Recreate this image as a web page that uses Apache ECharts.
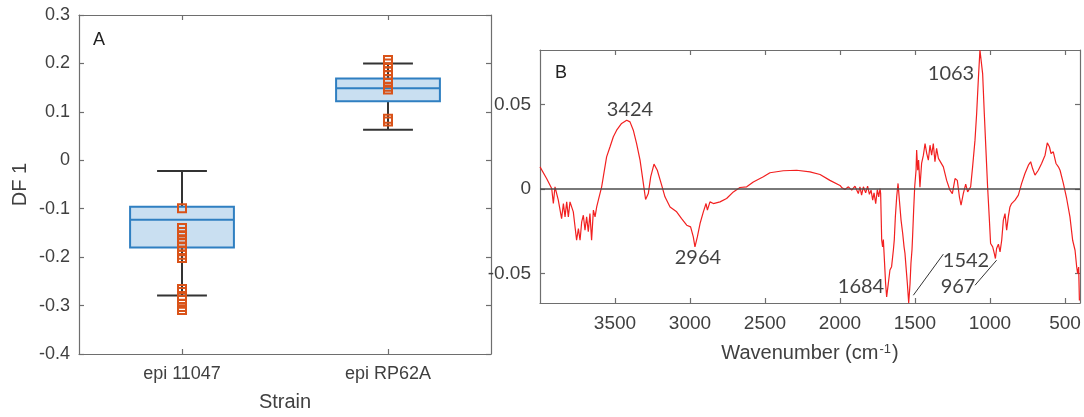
<!DOCTYPE html>
<html>
<head>
<meta charset="utf-8">
<script src="https://cdn.jsdelivr.net/npm/echarts@6.0.0/dist/echarts.min.js"></script>
<style>
  html, body { margin: 0; padding: 0; background: #ffffff; }
  #chart { width: 1084px; height: 417px; }
</style>
</head>
<body>
<div id="chart"></div>
<script>
// ---------- Panel A: box plot data ----------
const strains = ['epi 11047', 'epi RP62A'];
const whiskerLow  = [-0.279, 0.063];
const boxQ1       = [-0.180, 0.122];
const boxMedian   = [-0.123, 0.149];
const boxQ3       = [-0.096, 0.169];
const whiskerHigh = [-0.022, 0.200];
const pointsEpi11047 = [-0.099, -0.140, -0.148, -0.155, -0.163, -0.170, -0.178, -0.188, -0.195, -0.202,
                        -0.266, -0.272, -0.280, -0.288, -0.296, -0.303, -0.309];
const pointsEpiRP62A = [0.207, 0.200, 0.192, 0.184, 0.176, 0.168, 0.160, 0.152, 0.146, 0.086, 0.080];
const dfTickValues = [-0.4, -0.3, -0.2, -0.1, 0, 0.1, 0.2, 0.3];

// ---------- Panel B: spectrum data ----------
const wavenumbers = [
  4000, 3956, 3922, 3911, 3900, 3878, 3856, 3844, 3833, 3822, 3811, 3800, 3789, 3778, 3756, 3744, 3733, 3722,
  3711, 3700, 3689, 3678, 3667, 3656, 3644, 3633, 3622, 3611, 3589, 3578, 3556, 3533, 3511, 3489, 3456, 3422,
  3400, 3378, 3356, 3333, 3311, 3296, 3278, 3262, 3240, 3218, 3189, 3167, 3133, 3089, 3056, 3022, 2996, 2978,
  2967, 2951, 2933, 2911, 2893, 2884, 2867, 2844, 2800, 2756, 2711, 2667, 2622, 2578, 2511, 2467, 2378, 2289,
  2200, 2133, 2067, 2000, 1989, 1967, 1944, 1922, 1900, 1878, 1867, 1856, 1844, 1829, 1816, 1804, 1793, 1782,
  1773, 1762, 1751, 1742, 1733, 1729, 1722, 1716, 1711, 1704, 1696, 1689, 1678, 1667, 1656, 1644, 1638, 1631,
  1622, 1613, 1604, 1593, 1582, 1573, 1567, 1560, 1551, 1542, 1533, 1527, 1520, 1516, 1509, 1502, 1493, 1489,
  1482, 1476, 1467, 1456, 1444, 1433, 1422, 1411, 1400, 1389, 1378, 1367, 1356, 1344, 1333, 1311, 1289, 1267,
  1251, 1233, 1218, 1204, 1193, 1178, 1162, 1149, 1138, 1129, 1116, 1100, 1089, 1078, 1067, 1056, 1049, 1038,
  1027, 1016, 1004, 996, 982, 971, 964, 956, 944, 933, 922, 911, 900, 889, 878, 867, 856, 833, 811, 789, 767,
  744, 729, 716, 700, 678, 656, 633, 618, 604, 593, 578, 560, 544, 533, 511, 489, 467, 449, 433, 422, 416, 409, 404
];
const absorbance = [
  0.0130, 0.0061, 0.0002, -0.0087, 0.0012, -0.0067, -0.0176, -0.0087, -0.0166, -0.0077, -0.0166, -0.0077, -0.0087, -0.0136, -0.0304, -0.0235, -0.0304, -0.0195,
  -0.0156, -0.0245, -0.0166, -0.0254, -0.0146, -0.0304, -0.0126, -0.0166, -0.0107, -0.0067, 0.0012, 0.0071, 0.0189, 0.0249, 0.0308, 0.0347, 0.0387, 0.0406,
  0.0396, 0.0347, 0.0268, 0.0170, 0.0032, -0.0063, -0.0028, 0.0071, 0.0146, 0.0110, 0.0022, -0.0047, -0.0107, -0.0136, -0.0176, -0.0215, -0.0225, -0.0284,
  -0.0343, -0.0284, -0.0205, -0.0136, -0.0087, -0.0126, -0.0077, -0.0087, -0.0077, -0.0057, -0.0018, 0.0008, 0.0012, 0.0041, 0.0071, 0.0095, 0.0107, 0.0110,
  0.0100, 0.0085, 0.0050, 0.0020, 0.0008, -0.0004, 0.0012, -0.0008, 0.0016, -0.0028, 0.0012, -0.0037, 0.0012, -0.0024, 0.0016, -0.0032, -0.0008, -0.0067,
  -0.0024, -0.0087, -0.0004, -0.0047, 0.0002, -0.0028, -0.0304, -0.0343, -0.0300, -0.0420, -0.0560, -0.0639, -0.0560, -0.0480, -0.0460, -0.0360, -0.0300, -0.0166,
  -0.0047, 0.0032, -0.0067, -0.0185, -0.0264, -0.0343, -0.0380, -0.0460, -0.0560, -0.0675, -0.0560, -0.0440, -0.0360, -0.0280, -0.0126, 0.0012, 0.0110, 0.0229,
  0.0110, 0.0170, 0.0010, 0.0150, 0.0199, 0.0268, 0.0210, 0.0170, 0.0258, 0.0199, 0.0268, 0.0160, 0.0239, 0.0180, 0.0190, 0.0130, 0.0050, -0.0008,
  -0.0028, 0.0061, 0.0050, -0.0047, -0.0097, -0.0028, 0.0028, -0.0018, -0.0028, 0.0012, 0.0130, 0.0288, 0.0446, 0.0643, 0.0821, 0.0821, 0.0680, 0.0446,
  0.0229, 0.0012, -0.0185, -0.0323, -0.0343, -0.0383, -0.0412, -0.0353, -0.0327, -0.0373, -0.0304, -0.0185, -0.0146, -0.0245, -0.0166, -0.0107, -0.0087, -0.0067, -0.0037, 0.0032, 0.0091,
  0.0140, 0.0160, 0.0120, 0.0081, 0.0110, 0.0150, 0.0199, 0.0272, 0.0249, 0.0209, 0.0219, 0.0150, 0.0130, 0.0110, 0.0032, -0.0057, -0.0166, -0.0304, -0.0363, -0.0462, -0.0500, -0.0462, -0.0660
];
const wavenumberTicks = [500, 1000, 1500, 2000, 2500, 3000, 3500];
const absorbanceTicks = [-0.05, 0, 0.05];

// peak annotations (text centre in data coordinates)
const peakLabels = ['3424', '2964', '1063', '1684', '1542', '967'];
const peakLabelWavenumber = [3400, 2947, 1260, 1860, 1160, 1213];
const peakLabelValue = [0.0466, -0.0404, 0.0679, -0.0576, -0.0423, -0.0576];
// leader lines: [startWavenumber, startValue, endWavenumber, endValue]
const leader1542 = [1311, -0.0386, 1511, -0.0629];
const leader967 = [1100, -0.0570, 956, -0.0422];

// ---------- build ----------
const AX = '#6e6e6e';
const TXT = '#404040';
const FONT = '"Liberation Sans", Arial, Helvetica, sans-serif';

const boxData = strains.map((s, i) => [i, whiskerLow[i], boxQ1[i], boxMedian[i], boxQ3[i], whiskerHigh[i]]);
const pointData = pointsEpi11047.map(v => [0, v]).concat(pointsEpiRP62A.map(v => [1, v]));
const spectrumData = wavenumbers.map((w, i) => [w, absorbance[i]]);
const peakData = peakLabels.map((t, i) => ({ name: t, value: [peakLabelWavenumber[i], peakLabelValue[i]] }));

function frameAxis(extra) {
  return Object.assign({
    axisLine: { show: true, onZero: false, lineStyle: { color: AX, width: 1.2 } },
    axisTick: { show: true, inside: true, length: 5, lineStyle: { color: AX, width: 1.2 } },
    splitLine: { show: false },
    axisLabel: { show: false }
  }, extra);
}

const chart = echarts.init(document.getElementById('chart'), null, { renderer: 'canvas' });
const option = {
  animation: false,
  backgroundColor: '#ffffff',
  textStyle: { fontFamily: FONT },
  grid: [
    { left: 79, top: 15, width: 412, height: 339, containLabel: false },
    { left: 540, top: 50, width: 540, height: 253, containLabel: false }
  ],
  xAxis: [
    frameAxis({
      gridIndex: 0, type: 'category', data: strains, position: 'bottom',
      axisTick: { show: true, inside: true, length: 5, alignWithLabel: true, lineStyle: { color: AX, width: 1.2 } },
      axisLabel: { show: true, color: TXT, fontSize: 18, margin: 11, fontFamily: FONT },
      name: 'Strain', nameLocation: 'middle', nameGap: 38,
      nameTextStyle: { color: TXT, fontSize: 20, fontFamily: FONT }
    }),
    frameAxis({
      gridIndex: 0, type: 'category', data: strains, position: 'top',
      axisTick: { show: true, inside: true, length: 5, alignWithLabel: true, lineStyle: { color: AX, width: 1.2 } }
    }),
    frameAxis({
      gridIndex: 1, type: 'value', inverse: true, min: 400, max: 4000, position: 'bottom',
      axisTick: { show: true, inside: true, length: 5, customValues: wavenumberTicks, lineStyle: { color: AX, width: 1.2 } },
      axisLabel: { show: true, color: TXT, fontSize: 19, margin: 11, fontFamily: FONT, customValues: wavenumberTicks,
        formatter: v => String(Math.round(v)) },
      name: '{n|Wavenumber (cm}{s|-1}{n|)}', nameLocation: 'middle', nameGap: 40,
      nameTextStyle: {
        color: TXT, fontSize: 20, fontFamily: FONT,
        rich: {
          n: { fontSize: 20, color: TXT, fontFamily: FONT, verticalAlign: 'bottom' },
          s: { fontSize: 13, color: TXT, fontFamily: FONT, verticalAlign: 'top', padding: [0, 1, 0, 1] }
        }
      }
    }),
    frameAxis({
      gridIndex: 1, type: 'value', inverse: true, min: 400, max: 4000, position: 'top',
      axisTick: { show: true, inside: true, length: 5, customValues: wavenumberTicks, lineStyle: { color: AX, width: 1.2 } }
    })
  ],
  yAxis: [
    frameAxis({
      gridIndex: 0, type: 'value', min: -0.4, max: 0.3, interval: 0.1, position: 'left',
      axisLabel: {
        show: true, color: TXT, fontSize: 18, margin: 9, fontFamily: FONT,
        formatter: v => String(Math.round(v * 10) / 10)
      },
      name: 'DF 1', nameLocation: 'middle', nameGap: 49, nameRotate: 90,
      nameTextStyle: { color: TXT, fontSize: 20, fontFamily: FONT }
    }),
    frameAxis({
      gridIndex: 0, type: 'value', min: -0.4, max: 0.3, interval: 0.1, position: 'right'
    }),
    frameAxis({
      gridIndex: 1, type: 'value', min: -0.0675, max: 0.0821, position: 'left',
      axisTick: { show: true, inside: true, length: 5, customValues: absorbanceTicks, lineStyle: { color: AX, width: 1.2 } },
      axisLabel: {
        show: true, color: TXT, fontSize: 19, margin: 9, fontFamily: FONT, customValues: absorbanceTicks,
        formatter: v => String(Math.round(v * 100) / 100)
      }
    }),
    frameAxis({
      gridIndex: 1, type: 'value', min: -0.0675, max: 0.0821, position: 'right',
      axisTick: { show: true, inside: true, length: 5, customValues: absorbanceTicks, lineStyle: { color: AX, width: 1.2 } }
    })
  ],
  graphic: [
    { type: 'text', left: 93, top: 31, style: { text: 'A', fontSize: 18, fill: '#222', fontFamily: FONT } },
    { type: 'text', left: 555, top: 64, style: { text: 'B', fontSize: 18, fill: '#222', fontFamily: FONT } }
  ],
  series: [
    {
      type: 'custom',
      xAxisIndex: 0, yAxisIndex: 0,
      data: boxData,
      encode: { x: 0, y: [1, 2, 3, 4, 5] },
      z: 2,
      renderItem: function (params, api) {
        const idx = api.value(0);
        const lo = api.coord([idx, api.value(1)]);
        const q1 = api.coord([idx, api.value(2)]);
        const med = api.coord([idx, api.value(3)]);
        const q3 = api.coord([idx, api.value(4)]);
        const hi = api.coord([idx, api.value(5)]);
        const band = api.size([1, 0])[0];
        const bw = band * 0.252;
        const cw = band * 0.121;
        const x = lo[0];
        const wStyle = { stroke: '#333333', lineWidth: 2 };
        const bStyle = { stroke: '#2f7fc1', lineWidth: 2 };
        return {
          type: 'group',
          children: [
            { type: 'line', shape: { x1: x, y1: hi[1], x2: x, y2: q3[1] }, style: wStyle },
            { type: 'line', shape: { x1: x, y1: q1[1], x2: x, y2: lo[1] }, style: wStyle },
            { type: 'line', shape: { x1: x - cw, y1: hi[1], x2: x + cw, y2: hi[1] }, style: wStyle },
            { type: 'line', shape: { x1: x - cw, y1: lo[1], x2: x + cw, y2: lo[1] }, style: wStyle },
            { type: 'rect', shape: { x: x - bw, y: q3[1], width: 2 * bw, height: q1[1] - q3[1] },
              style: { fill: '#c9dff1', stroke: '#2f7fc1', lineWidth: 2 } },
            { type: 'line', shape: { x1: x - bw, y1: med[1], x2: x + bw, y2: med[1] }, style: bStyle }
          ]
        };
      }
    },
    {
      type: 'scatter',
      xAxisIndex: 0, yAxisIndex: 0,
      data: pointData,
      symbol: 'rect',
      symbolSize: 8,
      z: 5,
      itemStyle: { color: 'rgba(255,255,255,0)', borderColor: '#d95319', borderWidth: 2, opacity: 1 }
    },
    {
      type: 'line',
      xAxisIndex: 2, yAxisIndex: 2,
      data: spectrumData,
      showSymbol: false,
      symbol: 'none',
      lineStyle: { color: '#f22020', width: 1.2 },
      z: 3,
      markLine: {
        silent: true,
        symbol: ['none', 'none'],
        label: { show: false },
        lineStyle: { color: '#4d4d4d', width: 1.5, type: 'solid' },
        data: [{ yAxis: 0 }]
      }
    },
    {
      type: 'scatter',
      xAxisIndex: 2, yAxisIndex: 2,
      data: peakData,
      symbolSize: 0,
      z: 6,
      label: {
        show: true, position: 'inside', color: '#111',
        fontSize: 20, fontFamily: 'Lato, "Open Sans", sans-serif',
        formatter: p => p.name
      },
      markLine: {
        silent: true,
        symbol: ['none', 'none'],
        label: { show: false },
        lineStyle: { color: '#333', width: 1, type: 'solid' },
        data: [
          [{ coord: [leader1542[0], leader1542[1]] }, { coord: [leader1542[2], leader1542[3]] }],
          [{ coord: [leader967[0], leader967[1]] }, { coord: [leader967[2], leader967[3]] }]
        ]
      }
    }
  ]
};
chart.setOption(option);
</script>
</body>
</html>
